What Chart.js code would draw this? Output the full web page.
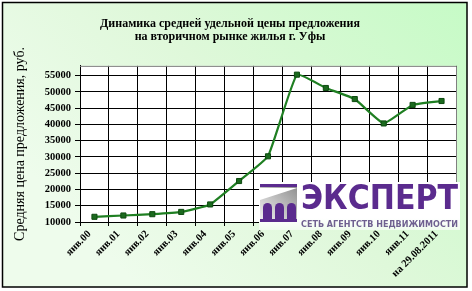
<!DOCTYPE html>
<html>
<head>
<meta charset="utf-8">
<script src="https://cdn.jsdelivr.net/npm/chart.js@4/dist/chart.umd.min.js"></script>
<style>
html,body{margin:0;padding:0;background:#fff;}
canvas{display:block;}
</style>
</head>
<body>
<canvas id="c" width="472" height="291"></canvas>
<script>
const categories = ['янв.00','янв.01','янв.02','янв.03','янв.04','янв.05','янв.06','янв.07','янв.08','янв.09','янв.10','янв.11','на 29.08.2011'];
const prices = [11600, 12000, 12400, 13100, 15400, 22600, 30200, 55300, 51200, 47800, 40300, 46000, 47200];
const yTicks = [10000, 15000, 20000, 25000, 30000, 35000, 40000, 45000, 50000, 55000];
const titleLines = ['Динамика средней удельной цены предложения', 'на вторичном рынке жилья г. Уфы'];
const yAxisTitle = 'Средняя цена предложения, руб.';
const yMin = 10000, yMax = 58000;
const logoName = 'ЭКСПЕРТ';
const logoSub = 'СЕТЬ АГЕНТСТВ НЕДВИЖИМОСТИ';

const SERIF = '"Liberation Serif", "Times New Roman", serif';
const PURPLE = '#5b2b8e';

const bgPlugin = {
  id: 'bg',
  beforeDraw(chart) {
    const ctx = chart.ctx;
    ctx.save();
    ctx.fillStyle = '#ffffff';
    ctx.fillRect(0, 0, 472, 291);
    const g = ctx.createLinearGradient(467, 2, 150, 300);
    g.addColorStop(0, '#c6fbc6');
    g.addColorStop(0.55, '#dff8da');
    g.addColorStop(1, '#eefcec');
    ctx.fillStyle = g;
    ctx.fillRect(2, 2, 465, 285);
    ctx.strokeStyle = '#000';
    ctx.lineWidth = 1.5;
    ctx.strokeRect(2.5, 2.5, 464.5, 284.5);
    const a = chart.chartArea;
    ctx.fillStyle = '#ffffff';
    ctx.fillRect(a.left, a.top, a.right - a.left, a.bottom - a.top);
    ctx.restore();
  },
  afterDatasetsDraw(chart) {
    const ctx = chart.ctx;
    const a = chart.chartArea;
    ctx.save();
    ctx.strokeStyle = '#808080';
    ctx.lineWidth = 1;
    ctx.beginPath();
    ctx.moveTo(a.left, a.top + 0.5);
    ctx.lineTo(a.right + 0.5, a.top + 0.5);
    ctx.lineTo(a.right + 0.5, a.bottom);
    ctx.stroke();
    ctx.restore();
  },
  afterDraw(chart) {
    const ctx = chart.ctx;
    ctx.save();
    const lx = 259, ly = 182, lw = 201, lh = 48;
    const lg = ctx.createLinearGradient(0, ly, 0, ly + lh);
    lg.addColorStop(0, '#ffffff');
    lg.addColorStop(0.75, '#ffffff');
    lg.addColorStop(1, 'rgba(240,252,238,1)');
    ctx.fillStyle = lg;
    ctx.fillRect(lx, ly, lw, lh);
    const ix = 260, iy = 184, iw = 37, ih = 38;
    const ig = ctx.createLinearGradient(ix, iy + ih, ix + iw, iy);
    ig.addColorStop(0, '#f4f4f4');
    ig.addColorStop(1, '#8c8c8c');
    ctx.fillStyle = ig;
    ctx.fillRect(ix, iy, iw, ih);
    ctx.fillStyle = '#ffffff';
    ctx.beginPath();
    ctx.moveTo(ix, iy + 4);
    ctx.lineTo(ix + iw, iy + 4);
    ctx.lineTo(ix, iy + 16);
    ctx.closePath();
    ctx.fill();
    ctx.fillStyle = PURPLE;
    ctx.fillRect(ix, iy, iw, 3);
    ctx.fillRect(ix, iy + ih - 3, iw, 3);
    const cw = 9, gap = 3;
    for (let k = 0; k < 3; k++) {
      const cx = ix + 3 + k * (cw + gap);
      const top = iy + 19;
      ctx.beginPath();
      ctx.moveTo(cx, iy + ih - 3);
      ctx.lineTo(cx, top + cw / 2);
      ctx.arc(cx + cw / 2, top + cw / 2, cw / 2, Math.PI, 0);
      ctx.lineTo(cx + cw, iy + ih - 3);
      ctx.closePath();
      ctx.fill();
    }
    ctx.fillStyle = PURPLE;
    ctx.font = 'bold 34px "DejaVu Sans", sans-serif';
    ctx.textAlign = 'left';
    ctx.textBaseline = 'alphabetic';
    ctx.fillText(logoName, 301, 209, 157);
    ctx.font = 'bold 8.5px "DejaVu Sans", sans-serif';
    ctx.fillStyle = '#6f6090';
    ctx.fillText(logoSub, 301, 227, 157);
    ctx.restore();
  }
};

new Chart(document.getElementById('c'), {
  type: 'line',
  data: {
    labels: categories,
    datasets: [{
      data: prices,
      borderColor: '#1f7f22',
      borderWidth: 2.2,
      backgroundColor: '#1b6a1e',
      pointStyle: 'rect',
      pointRadius: 3.6,
      pointBorderColor: '#0e4a10',
      pointBorderWidth: 1,
      pointBackgroundColor: '#1b6a1e',
      tension: 0.12,
      fill: false
    }]
  },
  options: {
    responsive: false,
    animation: false,
    devicePixelRatio: 1,
    layout: { padding: { left: 4, right: 16, top: 0, bottom: 0 } },
    plugins: {
      legend: { display: false },
      tooltip: { enabled: false },
      title: {
        display: true,
        text: titleLines,
        color: '#000',
        font: { family: SERIF, size: 12, weight: 'bold', lineHeight: 1.12 },
        padding: { top: 17, bottom: 22 }
      }
    },
    scales: {
      x: {
        offset: true,
        grid: { offset: true, color: '#000', lineWidth: 1, tickLength: 4, drawTicks: true },
        border: { color: '#000', width: 1 },
        ticks: {
          color: '#000',
          font: { family: SERIF, size: 10.5, weight: 'bold' },
          maxRotation: 45, minRotation: 45, autoSkip: false, padding: 2, labelOffset: -5
        },
        afterFit(scale) { scale.height = 291 - 222; }
      },
      y: {
        min: yMin, max: yMax,
        afterBuildTicks(scale) { scale.ticks = yTicks.map(v => ({ value: v })); },
        grid: { color: '#000', lineWidth: 1, tickLength: 5 },
        border: { color: '#000', width: 1 },
        ticks: {
          autoSkip: false,
          color: '#000',
          font: { family: SERIF, size: 10.5, weight: 'bold' },
          padding: 4,
          callback: v => String(v)
        },
        title: {
          display: true,
          text: yAxisTitle,
          color: '#000',
          font: { family: SERIF, size: 14 },
          padding: { top: 8, bottom: 0 }
        },
        afterFit(scale) { scale.width = 76; }
      }
    }
  },
  plugins: [bgPlugin]
});
</script>
</body>
</html>
